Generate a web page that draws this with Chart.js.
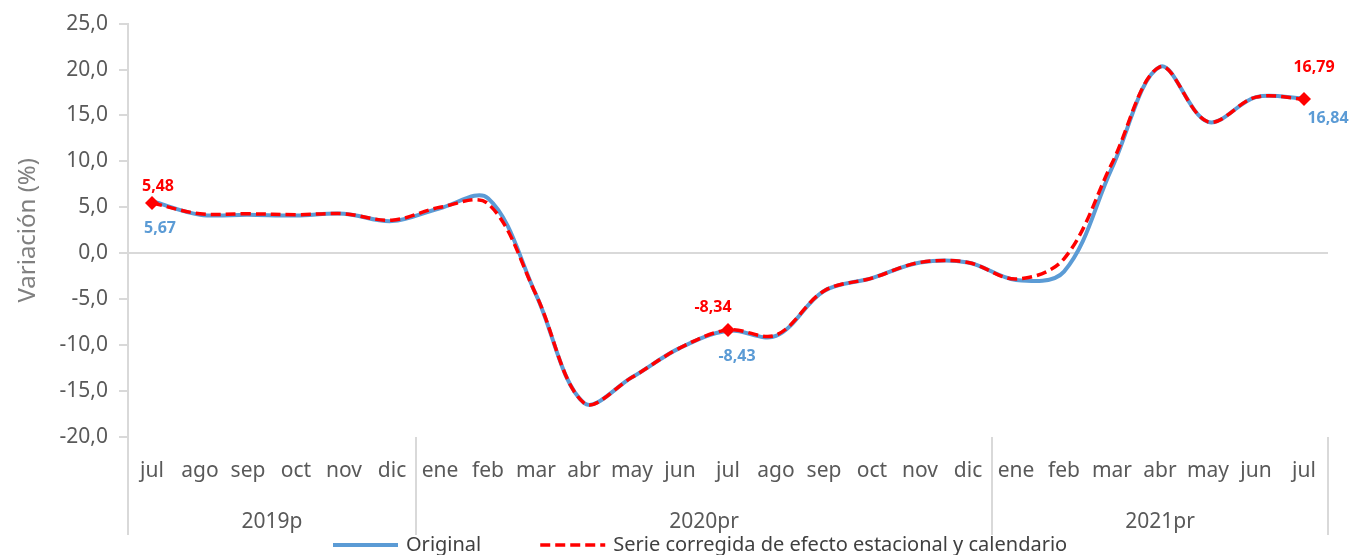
<!DOCTYPE html>
<html>
<head>
<meta charset="utf-8">
<script src="https://cdn.jsdelivr.net/npm/chart.js@4/dist/chart.umd.min.js"></script>
<style>
  html, body { margin: 0; padding: 0; background: #fff; }
  #wrap { width: 1351px; height: 555px; position: relative; }
</style>
</head>
<body>
<div id="wrap"><canvas id="chart"></canvas></div>
<script>
const months = ['jul','ago','sep','oct','nov','dic','ene','feb','mar','abr','may','jun','jul','ago','sep','oct','nov','dic','ene','feb','mar','abr','may','jun','jul'];
const years = ['2019p', '2020pr', '2021pr'];
const yearSpans = [6, 12, 7];
const original = [5.67, 4.2, 4.2, 4.1, 4.3, 3.5, 4.9, 6.0, -4.5, -16.3, -13.5, -10.3, -8.43, -9.0, -4.1, -2.7, -1.0, -1.0, -2.9, -2.0, 9.3, 20.3, 14.3, 17.0, 16.84];
const corrected = [5.48, 4.3, 4.3, 4.2, 4.3, 3.6, 5.0, 5.4, -4.5, -16.3, -13.5, -10.3, -8.34, -8.9, -4.1, -2.7, -1.0, -1.0, -2.8, -0.6, 9.8, 20.3, 14.3, 17.0, 16.79];
const labelled = [0, 12, 24];
// label offsets from the point: [dx, dy]
const redOffsets = [[6, -16], [-15, -22], [10, -32]];
const blueOffsets = [[8, 27], [9, 26], [24, 20]];

const FONT = "'Noto Sans', sans-serif";
const fmt = (v, d) => v.toFixed(d).replace('.', ',');

const groupAxis = {
  id: 'groupAxis',
  afterDraw(chart) {
    const { ctx, chartArea, scales: { x } } = chart;
    const half = (x.getPixelForValue(1) - x.getPixelForValue(0)) / 2;
    const bottom = chartArea.bottom + 98;
    ctx.save();
    ctx.strokeStyle = '#d9d9d9';
    ctx.lineWidth = 2;
    ctx.beginPath();
    ctx.moveTo(chartArea.left, chartArea.bottom);
    ctx.lineTo(chartArea.left, bottom);
    ctx.stroke();
    ctx.fillStyle = '#595959';
    ctx.font = '21px ' + FONT;
    ctx.textAlign = 'center';
    ctx.textBaseline = 'middle';
    let start = 0;
    years.forEach((yr, i) => {
      const end = start + yearSpans[i];
      const x0 = x.getPixelForValue(start) - half;
      const x1 = x.getPixelForValue(end - 1) + half;
      ctx.beginPath();
      ctx.moveTo(x1, chartArea.bottom);
      ctx.lineTo(x1, bottom);
      ctx.stroke();
      ctx.fillText(yr, (x0 + x1) / 2, chartArea.bottom + 85);
      start = end;
    });
    ctx.restore();
  }
};

// legend drawn by hand so the item spacing can follow the original
const bottomLegend = {
  id: 'bottomLegend',
  afterDraw(chart) {
    const { ctx } = chart;
    const y = 545;
    let x = 333;
    ctx.save();
    ctx.font = '20px ' + FONT;
    ctx.textBaseline = 'middle';
    chart.data.datasets.forEach(ds => {
      ctx.strokeStyle = ds.borderColor;
      ctx.lineWidth = ds.borderWidth;
      ctx.setLineDash(ds.borderDash || []);
      ctx.beginPath();
      ctx.moveTo(x, y);
      ctx.lineTo(x + 65, y);
      ctx.stroke();
      ctx.setLineDash([]);
      ctx.fillStyle = '#404040';
      ctx.fillText(ds.label, x + 73, y);
      x += 73 + ctx.measureText(ds.label).width + 59;
    });
    ctx.restore();
  }
};

const pointLabels = {
  id: 'pointLabels',
  afterDatasetsDraw(chart) {
    const { ctx } = chart;
    ctx.save();
    ctx.font = 'bold 16px ' + FONT;
    ctx.textAlign = 'center';
    ctx.textBaseline = 'middle';
    [[0, '#5B9BD5', blueOffsets], [1, '#FF0000', redOffsets]].forEach(([di, color, offs]) => {
      const meta = chart.getDatasetMeta(di);
      const data = chart.data.datasets[di].data;
      ctx.fillStyle = color;
      labelled.forEach((idx, k) => {
        const pt = meta.data[idx];
        ctx.fillText(fmt(data[idx], 2), pt.x + offs[k][0], pt.y + offs[k][1]);
      });
    });
    ctx.restore();
  }
};

new Chart(document.getElementById('chart'), {
  type: 'line',
  data: {
    labels: months,
    datasets: [
      {
        label: 'Original',
        data: original,
        borderColor: '#5B9BD5',
        backgroundColor: '#5B9BD5',
        borderWidth: 4,
        pointRadius: 0,
        tension: 0.35,
        order: 1
      },
      {
        label: 'Serie corregida de efecto estacional y calendario',
        data: corrected,
        borderColor: '#FF0000',
        backgroundColor: '#FF0000',
        borderWidth: 3.5,
        borderDash: [10, 5],
        pointStyle: 'rectRot',
        pointRadius: ctx => labelled.includes(ctx.dataIndex) ? 7 : 0,
        pointBorderWidth: 0,
        tension: 0.35,
        order: 0
      }
    ]
  },
  options: {
    responsive: true,
    maintainAspectRatio: false,
    animation: false,
    layout: { padding: { top: 22, right: 23, left: 0, bottom: 22 } },
    plugins: {
      tooltip: { enabled: false },
      legend: { display: false }
    },
    scales: {
      x: {
        offset: true,
        afterFit: scale => { scale.height = 96; },
        grid: { display: false, drawTicks: false },
        border: { display: false },
        ticks: {
          color: '#595959',
          font: { family: FONT, size: 21 },
          padding: 21,
          maxRotation: 0,
          autoSkip: false
        }
      },
      y: {
        min: -20,
        max: 25,
        afterFit: scale => { scale.width = 128; },
        border: { display: true, color: '#d9d9d9', width: 2 },
        grid: {
          color: ctx => ctx.tick && ctx.tick.value === 0 ? '#d9d9d9' : 'rgba(0,0,0,0)',
          lineWidth: 2,
          tickColor: '#d9d9d9',
          tickLength: 9
        },
        ticks: {
          stepSize: 5,
          color: '#595959',
          font: { family: FONT, size: 21 },
          padding: 11,
          callback: v => fmt(v, 1)
        },
        title: {
          display: true,
          text: 'Variación (%)',
          color: '#808080',
          font: { family: FONT, size: 24 },
          padding: { top: 14, bottom: 0 }
        }
      }
    }
  },
  plugins: [groupAxis, bottomLegend, pointLabels]
});
</script>
</body>
</html>
